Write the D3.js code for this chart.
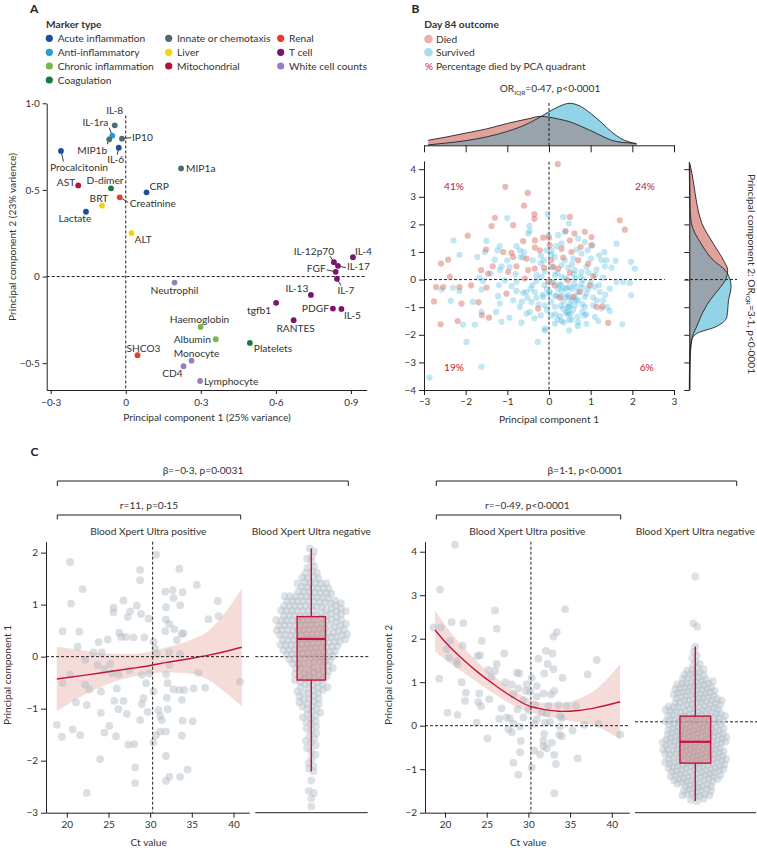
<!DOCTYPE html>
<html><head><meta charset="utf-8">
<script src="https://cdn.jsdelivr.net/npm/d3@7"></script>
<style>body{margin:0;background:#fff}svg{display:block}</style>
</head><body><svg id="c" width="757" height="848"></svg>
<script>
// ---------------- DATA ----------------
const markerTypes = ["Acute inflammation","Anti-inflammatory","Chronic inflammation","Coagulation","Innate or chemotaxis","Liver","Mitochondrial","Renal","T cell","White cell counts"];
// [name, PC1, PC2, type index]
const markers = [
 ["IL-8",-0.044,0.873,4],["IL-1ra",-0.054,0.813,1],["MIP1b",-0.066,0.792,4],["IP10",-0.015,0.796,4],
 ["IL-6",-0.028,0.744,0],["Procalcitonin",-0.259,0.725,0],["MIP1a",0.221,0.624,4],["AST",-0.19,0.526,6],
 ["D-dimer",-0.059,0.509,3],["CRP",0.083,0.486,0],["Creatinine",-0.024,0.457,7],["BRT",-0.095,0.409,5],
 ["Lactate",-0.159,0.374,0],["ALT",0.023,0.251,5],["IL-4",0.908,0.112,8],["IL-12p70",0.832,0.083,8],
 ["IL-17",0.848,0.062,8],["FGF",0.839,0.027,8],["IL-7",0.844,-0.013,8],["Neutrophil",0.195,-0.035,9],
 ["IL-13",0.74,-0.106,8],["tgfb1",0.601,-0.152,8],["PDGF",0.828,-0.185,8],["IL-5",0.862,-0.187,8],
 ["RANTES",0.671,-0.252,8],["Haemoglobin",0.299,-0.291,2],["Albumin",0.36,-0.362,2],["Platelets",0.496,-0.383,3],
 ["SHCO3",0.047,-0.454,7],["Monocyte",0.263,-0.486,9],["CD4",0.231,-0.518,9],["Lymphocyte",0.297,-0.603,9]
];
const aXTicks = [-0.3,0,0.3,0.6,0.9];
const aYTicks = [-0.5,0,0.5,1.0];

const outcomes = ["Died","Survived"];
const quadrantPct = [["41%",-1],["24%",1],["19%",-1],["6%",1]];
const diedPts = [[-1.05,3.36],[-0.51,3.14],[-0.6,2.68],[-0.35,2.37],[-0.35,2.2],[-1.3,2.24],[-1.38,1.94],[-0.86,1.97],[-1.95,1.59],[-0.62,1.39],[-0.34,1.42],[-0.14,1.52],[-2.42,0.72],[-2.59,0.58],[-1.51,1.09],[-1.1,1.0],[-0.9,0.97],[-0.86,0.82],[-0.54,0.76],[-0.34,1.16],[-0.22,1.06],[-1.63,0.34],[-1.35,0.48],[-1.46,0.22],[-0.98,0.28],[-0.78,0.48],[-0.5,0.34],[-0.34,0.4],[-0.12,0.43],[-2.38,0.1],[-0.58,0.04],[-2.71,-0.27],[-2.54,-0.27],[-2.15,-0.27],[-1.87,-0.21],[-1.5,-0.29],[-2.76,-0.79],[-2.1,-0.87],[-1.69,-0.82],[-1.02,-0.51],[-0.26,-1.05],[-1.61,-1.29],[-1.44,-1.38],[-2.19,-1.5],[-2.6,-1.62],[-0.02,-0.08],[0.21,4.18],[0.0,1.52],[0.5,2.27],[0.4,1.76],[0.61,1.67],[0.86,1.73],[1.02,1.54],[1.7,2.15],[1.82,1.81],[0.02,1.24],[0.3,1.12],[0.5,1.42],[0.54,1.0],[0.76,1.18],[1.02,1.24],[0.05,0.7],[0.34,0.8],[0.7,0.7],[0.94,0.58],[0.1,0.46],[0.22,0.4],[0.5,0.24],[1.06,0.12],[0.45,-0.03],[0.26,-0.65],[0.58,-0.63],[1.14,-0.99],[1.28,-0.97],[0.98,-0.21],[1.42,-1.57],[0.14,-0.21],[0.74,-0.45]];
const survivedPts = [[-1.0,2.23],[-0.47,1.95],[-0.46,1.76],[-0.5,1.67],[-0.03,2.37],[-2.29,1.42],[-2.15,0.9],[-1.5,1.4],[-1.18,1.21],[-1.72,0.82],[-1.54,1.0],[-1.3,0.72],[-1.24,1.06],[-0.78,1.21],[-0.68,0.82],[-1.0,0.7],[-1.14,0.48],[-1.4,0.22],[-1.18,0.34],[-0.7,1.06],[-0.62,0.8],[-0.39,0.7],[-0.19,0.86],[-0.12,0.7],[-1.67,0.07],[-1.58,-0.05],[-2.3,-0.3],[-2.58,-0.36],[-2.15,-0.41],[-1.62,-0.36],[-2.36,-0.77],[-1.83,-0.81],[-1.22,-0.6],[-1.18,-0.87],[-0.9,-0.24],[-0.78,-0.41],[-0.86,-0.75],[-0.62,-0.48],[-0.7,-0.99],[-0.52,-0.65],[-0.44,-0.33],[-0.34,-0.45],[-0.3,-0.65],[-0.42,-0.81],[-0.54,-1.23],[-0.46,-1.17],[-0.14,-0.63],[-0.1,-0.93],[-0.11,-0.2],[-0.18,0.1],[-1.62,-1.17],[-1.27,-1.17],[-0.95,-1.38],[-1.14,-1.53],[-0.66,-1.56],[-2.06,-1.63],[-1.78,-1.63],[-1.98,-2.26],[-0.27,-2.26],[-0.1,-1.84],[-1.62,-3.16],[-2.87,-3.55],[-0.02,1.6],[-0.06,1.06],[-0.3,0.16],[-0.78,-0.08],[-1.06,-0.03],[0.34,2.27],[0.48,2.03],[0.38,1.73],[0.22,1.61],[0.7,1.49],[0.86,1.37],[1.04,1.24],[1.62,1.3],[1.33,1.0],[1.38,0.7],[1.6,0.68],[1.97,0.64],[2.06,0.4],[0.06,1.04],[0.18,1.21],[0.66,1.09],[0.78,0.94],[0.93,1.06],[1.2,0.88],[0.14,0.82],[0.38,0.7],[0.58,0.76],[1.01,0.76],[1.26,0.7],[1.5,0.43],[0.08,0.46],[0.3,0.52],[0.46,0.43],[0.62,0.34],[0.78,0.28],[0.9,0.46],[1.14,0.36],[1.34,0.48],[1.1,0.16],[1.3,0.07],[1.62,-0.09],[1.78,-0.09],[1.94,-0.12],[1.97,-0.57],[0.14,0.16],[0.3,0.1],[0.62,0.04],[0.82,0.0],[0.06,-0.09],[0.29,-0.17],[0.38,-0.33],[0.5,-0.27],[0.66,-0.27],[0.78,-0.15],[0.94,-0.33],[1.1,-0.27],[1.22,-0.45],[1.46,-0.33],[0.02,-0.45],[0.18,-0.57],[0.42,-0.63],[0.7,-0.75],[0.86,-0.63],[1.06,-0.65],[1.3,-0.75],[1.46,-1.14],[0.14,-0.99],[0.34,-1.05],[0.48,-0.99],[0.62,-0.93],[0.86,-0.99],[1.06,-0.93],[1.26,-1.05],[0.06,-1.3],[0.26,-1.33],[0.46,-1.26],[0.69,-1.35],[0.9,-1.26],[1.1,-1.35],[0.14,-1.6],[0.3,-1.5],[0.48,-1.47],[0.69,-1.68],[0.9,-1.6],[1.18,-1.5],[1.76,-1.62],[-0.1,-1.78],[0.48,-1.84],[0.45,-1.17],[0.55,-0.75],[0.8,-1.17],[0.22,-0.33],
 [0.3,-0.4],[0.45,-0.55],[0.55,-0.35],[0.62,-0.6],[0.7,-0.45],[0.35,-0.8],[0.5,-0.9],[0.58,-1.1],[0.4,-1.2],[0.25,-0.2],[0.15,-0.6],[0.05,-0.8],[-0.05,-0.35],[-0.15,-0.55],[-0.25,-0.9],[-0.4,-0.2],[-0.55,-0.45],[-0.2,-1.3],[0.8,-0.9],[0.9,-0.5],[1.0,-0.1],[0.75,0.1],[0.6,0.2],[0.4,0.05],[0.2,0.25],[0.1,-0.1],[-0.1,0.3],[-0.3,-0.05],[0.85,-1.3],[0.55,-1.45],[0.35,-1.55],[0.15,-1.25],[1.15,-0.75],[1.2,-0.2],[0.65,-0.75],[0.48,-0.65],[0.52,-1.25],[0.42,-0.3],[0.28,-0.95],[-0.05,-1.1],[-0.35,-1.4],[-0.65,-0.8],[-0.8,0.2],[-0.95,0.45],[-1.2,-0.2],[-0.6,1.0],[-0.2,0.6],[0.05,0.9],[0.3,1.3],[0.55,0.55],[0.95,0.25],[1.35,-0.55],[1.4,-1.0],[0.7,-1.55],[0.45,-1.0],[0.6,-0.15],[0.3,-0.6],[0.8,-0.3],[0.2,-1.45],[0.0,-0.5]];
const bTicks = [-3,-2,-1,0,1,2,3];
const bYTicks = [-4,-3,-2,-1,0,1,2,3,4];
// marginal densities (relative)
const topDensX = [-2.9,-2.5,-2,-1.5,-1,-0.5,-0.2,0,0.25,0.5,0.75,1,1.25,1.5,1.75,2,2.1];
const topDied  = [0.12,0.19,0.29,0.39,0.52,0.63,0.69,0.67,0.62,0.56,0.46,0.35,0.23,0.12,0.07,0.05,0.03];
const topSurv  = [0.01,0.05,0.11,0.2,0.33,0.52,0.68,0.8,0.93,1.0,0.93,0.76,0.55,0.32,0.15,0.06,0.04];
const rightDensY = [4.25,4.08,3.11,2.5,2.03,1.3,0.7,0.34,-0.03,-0.25,-0.75,-1.35,-1.72,-1.95,-2.2,-2.9,-4];
const rightDied  = [0.0,0.03,0.14,0.21,0.3,0.57,0.81,0.91,0.85,0.75,0.49,0.27,0.17,0.1,0.06,0.02,0.01];
const rightSurv  = [0.0,0.0,0.01,0.02,0.05,0.28,0.57,0.85,0.97,0.99,0.93,0.89,0.61,0.18,0.05,0.01,0.0];

// Panel C
const ctTicks = [20,25,30,35,40];
const ctCutoff = 30.3;
// [Ct, PC1] Blood Xpert Ultra positive
const posPC1 = [[20.4,1.82],[30.7,1.96],[28.8,1.67],[28.8,1.47],[33.5,1.69],[21.9,1.3],[35.6,1.38],[20.5,1.02],[31.8,1.25],[32.7,1.28],[33.9,1.24],[32.8,1.13],[38.1,1.07],[26.8,1.08],[25.6,0.94],[25.6,0.85],[28.4,0.98],[27.6,0.87],[28.9,0.82],[27.3,0.76],[29.8,0.73],[31.9,0.95],[33.6,0.99],[38.2,0.78],[37.0,0.72],[31.9,0.71],[32.3,0.63],[19.5,0.49],[21.5,0.48],[26.3,0.46],[31.8,0.49],[32.9,0.53],[34.0,0.45],[26.5,0.38],[27.1,0.38],[28.0,0.37],[29.3,0.37],[30.4,0.29],[33.2,0.32],[33.8,0.44],[21.3,0.19],[23.8,0.28],[24.9,0.33],[23.2,0.08],[24.2,0.08],[30.6,0.16],[30.8,0.05],[32.3,0.08],[33.6,0.05],[22.2,-0.06],[25.2,-0.14],[23.7,-0.16],[20.4,-0.34],[24.5,-0.24],[25.4,-0.32],[26.2,-0.34],[27.5,-0.26],[29.0,-0.35],[29.9,-0.32],[31.9,-0.34],[32.3,-0.16],[35.8,-0.31],[19.5,-0.51],[22.2,-0.54],[22.7,-0.63],[24.1,-0.67],[26.0,-0.61],[29.5,-0.51],[30.4,-0.67],[32.1,-0.51],[32.8,-0.63],[33.5,-0.64],[34.1,-0.64],[35.2,-0.61],[36.6,-0.6],[40.8,-0.48],[32.0,-0.79],[33.8,-0.83],[25.7,-0.85],[29.2,-0.8],[21.1,-0.88],[22.4,-0.93],[26.8,-0.85],[29.0,-0.91],[26.2,-1.01],[29.7,-1.06],[31.0,-1.03],[32.1,-1.01],[24.1,-1.08],[27.2,-1.1],[31.2,-1.14],[31.4,-1.22],[28.8,-1.22],[33.9,-1.23],[35.1,-1.24],[18.8,-1.31],[20.7,-1.4],[19.4,-1.54],[21.6,-1.51],[24.5,-1.46],[25.1,-1.33],[25.9,-1.53],[31.2,-1.44],[31.9,-1.44],[30.7,-1.51],[33.8,-1.52],[27.4,-1.69],[28.1,-1.68],[30.4,-1.65],[31.9,-1.91],[24.0,-1.97],[28.2,-2.13],[34.5,-2.17],[32.3,-2.31],[33.6,-2.31],[31.9,-2.39],[28.2,-2.43],[22.4,-2.62]];
// PC1 values, Blood Xpert Ultra negative
const negPC1 = [2.08,2.02,1.93,1.88,1.82,1.74,1.69,1.64,1.61,1.58,1.55,1.52,1.49,1.47,1.44,1.42,1.41,1.39,1.37,1.36,1.34,1.33,1.31,1.29,1.28,1.26,1.25,1.23,1.22,1.21,1.2,1.19,1.18,1.17,1.16,1.15,1.14,1.13,1.12,1.11,1.1,1.09,1.08,1.07,1.06,1.05,1.04,1.03,1.02,1.01,1.0,0.99,0.98,0.98,0.97,0.96,0.95,0.95,0.94,0.93,0.92,0.91,0.9,0.9,0.89,0.88,0.87,0.86,0.86,0.85,0.84,0.83,0.83,0.82,0.81,0.8,0.8,0.79,0.79,0.78,0.77,0.77,0.76,0.75,0.75,0.74,0.73,0.73,0.72,0.71,0.71,0.7,0.69,0.69,0.68,0.67,0.67,0.66,0.65,0.65,0.64,0.63,0.63,0.62,0.61,0.61,0.6,0.59,0.59,0.58,0.57,0.57,0.56,0.55,0.55,0.54,0.53,0.53,0.52,0.51,0.51,0.5,0.5,0.49,0.48,0.48,0.47,0.46,0.46,0.45,0.44,0.44,0.43,0.42,0.42,0.41,0.41,0.4,0.39,0.38,0.38,0.37,0.36,0.36,0.35,0.34,0.34,0.33,0.32,0.32,0.31,0.3,0.3,0.29,0.28,0.28,0.27,0.26,0.26,0.25,0.24,0.24,0.23,0.22,0.21,0.2,0.19,0.18,0.17,0.16,0.15,0.14,0.13,0.12,0.11,0.1,0.09,0.08,0.07,0.06,0.05,0.04,0.03,0.02,0.01,0.0,0.0,0.01,-0.01,-0.02,-0.04,-0.05,-0.07,-0.08,-0.1,-0.11,-0.12,-0.14,-0.15,-0.16,-0.18,-0.19,-0.2,-0.21,-0.23,-0.24,-0.26,-0.27,-0.29,-0.3,-0.31,-0.33,-0.34,-0.36,-0.37,-0.38,-0.4,-0.41,-0.43,-0.45,-0.46,-0.48,-0.5,-0.51,-0.53,-0.55,-0.56,-0.58,-0.6,-0.61,-0.63,-0.65,-0.66,-0.68,-0.7,-0.72,-0.74,-0.76,-0.78,-0.8,-0.82,-0.85,-0.87,-0.9,-0.92,-0.95,-0.97,-0.99,-1.02,-1.05,-1.08,-1.1,-1.13,-1.16,-1.19,-1.22,-1.26,-1.3,-1.34,-1.38,-1.42,-1.47,-1.52,-1.57,-1.62,-1.65,-1.7,-1.76,-1.82,-1.88,-1.96,-2.05,-2.1,-2.15,-2.2,-2.38,-2.58,-2.62,-2.72,-2.88];
const negPC1Box = {q1:-0.45, median:0.34, q3:0.77, lo:-2.21, hi:2.08};
const fitCt1 = [18.8,22,25,28,30,32,35,37,39,41];
const fit1   = [-0.43,-0.36,-0.29,-0.22,-0.17,-0.11,-0.03,0.03,0.1,0.18];
const fit1Hi = [0.19,0.12,0.06,0.05,0.1,0.18,0.33,0.5,0.85,1.31];
const fit1Lo = [-1.05,-0.74,-0.52,-0.38,-0.33,-0.3,-0.33,-0.45,-0.68,-0.96];
const c1YTicks = [-3,-2,-1,0,1,2];

// [Ct, PC2] Blood Xpert Ultra positive
const posPC2 = [[21.2,4.16],[19.4,3.13],[26.0,2.65],[34.4,2.68],[20.8,2.38],[22.2,2.36],[18.6,2.26],[19.5,2.26],[26.2,2.23],[33.4,2.15],[33.0,2.05],[20.6,1.95],[22.1,1.84],[24.4,1.95],[20.2,1.76],[32.1,1.72],[32.9,1.66],[27.1,1.66],[20.5,1.57],[23.9,1.6],[24.2,1.62],[31.2,1.54],[38.2,1.51],[21.4,1.49],[21.5,1.41],[26.2,1.42],[32.3,1.42],[25.2,1.28],[26.0,1.26],[28.9,1.2],[28.6,1.22],[31.9,1.2],[33.0,1.3],[37.1,1.18],[25.6,1.13],[19.3,1.08],[22.0,1.0],[27.2,1.0],[28.0,0.95],[29.8,0.95],[30.4,1.1],[34.1,1.1],[28.8,0.86],[29.7,0.8],[31.0,0.91],[33.1,0.8],[22.5,0.76],[24.1,0.74],[28.2,0.72],[31.8,0.74],[32.7,0.72],[22.4,0.57],[24.0,0.54],[25.3,0.61],[29.4,0.59],[31.0,0.67],[24.3,0.45],[26.8,0.4],[28.7,0.38],[30.0,0.36],[32.4,0.46],[33.6,0.48],[34.6,0.46],[35.7,0.46],[20.3,0.3],[21.5,0.25],[26.5,0.16],[27.4,0.19],[29.4,0.19],[31.0,0.15],[32.2,0.28],[33.8,0.22],[34.0,0.17],[23.8,0.07],[28.2,0.05],[30.7,0.05],[32.0,0.07],[32.6,0.09],[36.7,0.02],[38.4,0.05],[27.6,-0.08],[29.0,-0.02],[33.8,-0.02],[35.3,-0.11],[28.0,-0.15],[41.0,-0.2],[31.9,-0.19],[33.7,-0.21],[34.0,-0.24],[25.1,-0.29],[29.1,-0.35],[31.8,-0.35],[32.8,-0.39],[31.8,-0.47],[30.7,-0.57],[32.2,-0.52],[31.4,-0.66],[33.1,-0.67],[29.0,-0.61],[35.9,-0.75],[28.2,-0.85],[33.3,-0.88],[30.4,-0.96],[28.8,-1.13],[33.1,-1.55],[31.6,0.3],[27.8,0.17],[30.2,0.78],[30.8,0.48]];
const negPC2 = [1.82,1.7,1.62,1.55,1.48,1.42,1.38,1.33,1.29,1.25,1.22,1.21,1.19,1.17,1.15,1.13,1.11,1.09,1.07,1.05,1.03,1.01,0.99,0.98,0.97,0.96,0.95,0.94,0.93,0.92,0.91,0.9,0.89,0.88,0.86,0.85,0.83,0.81,0.8,0.79,0.78,0.77,0.76,0.75,0.74,0.73,0.72,0.71,0.7,0.69,0.68,0.67,0.66,0.65,0.64,0.63,0.62,0.61,0.6,0.59,0.58,0.57,0.56,0.55,0.54,0.53,0.52,0.51,0.5,0.49,0.48,0.47,0.46,0.45,0.44,0.43,0.42,0.42,0.41,0.4,0.39,0.38,0.38,0.37,0.36,0.35,0.34,0.33,0.33,0.32,0.31,0.3,0.29,0.28,0.28,0.27,0.26,0.25,0.24,0.23,0.22,0.22,0.21,0.2,0.19,0.18,0.18,0.17,0.16,0.15,0.14,0.14,0.13,0.12,0.11,0.1,0.1,0.09,0.08,0.07,0.06,0.06,0.05,0.04,0.03,0.02,0.02,0.01,0.0,0.0,-0.01,-0.02,-0.02,-0.03,-0.04,-0.05,-0.06,-0.06,-0.07,-0.08,-0.09,-0.1,-0.1,-0.11,-0.12,-0.13,-0.14,-0.14,-0.15,-0.16,-0.17,-0.18,-0.18,-0.19,-0.2,-0.2,-0.2,-0.21,-0.22,-0.22,-0.23,-0.24,-0.25,-0.26,-0.26,-0.27,-0.28,-0.29,-0.3,-0.3,-0.31,-0.32,-0.33,-0.34,-0.34,-0.35,-0.36,-0.37,-0.37,-0.38,-0.38,-0.39,-0.39,-0.4,-0.4,-0.41,-0.42,-0.42,-0.43,-0.44,-0.45,-0.46,-0.46,-0.47,-0.48,-0.49,-0.5,-0.5,-0.51,-0.52,-0.53,-0.54,-0.54,-0.55,-0.56,-0.57,-0.57,-0.58,-0.58,-0.59,-0.59,-0.6,-0.6,-0.61,-0.62,-0.62,-0.63,-0.64,-0.65,-0.66,-0.66,-0.67,-0.68,-0.69,-0.7,-0.7,-0.71,-0.72,-0.73,-0.74,-0.74,-0.75,-0.76,-0.77,-0.77,-0.78,-0.78,-0.79,-0.79,-0.8,-0.8,-0.81,-0.82,-0.82,-0.83,-0.84,-0.85,-0.86,-0.86,-0.87,-0.88,-0.89,-0.9,-0.9,-0.91,-0.92,-0.93,-0.94,-0.94,-0.95,-0.96,-0.97,-0.98,-0.99,-1.0,-1.0,-1.0,-1.01,-1.02,-1.03,-1.04,-1.05,-1.06,-1.07,-1.08,-1.09,-1.1,-1.11,-1.12,-1.13,-1.14,-1.15,-1.16,-1.17,-1.18,-1.19,-1.2,-1.2,-1.2,-1.22,-1.23,-1.25,-1.26,-1.28,-1.29,-1.31,-1.32,-1.34,-1.35,-1.37,-1.38,-1.39,-1.4,-1.4,-1.4,-1.42,-1.44,-1.46,-1.48,-1.5,-1.51,-1.53,-1.55,-1.57,-1.58,-1.59,-1.6,-1.62,-1.66,-1.7,-1.73,2.28,2.35,3.43];
const negPC2Box = {q1:-0.86, median:-0.37, q3:0.22, lo:-1.73, hi:1.82};
const negPC2Ref = 0.09;
const fitCt2 = [18.8,20,22,24,26,28,30,32,34,36,38,41];
const fit2   = [2.2,1.93,1.55,1.22,0.93,0.67,0.46,0.37,0.33,0.35,0.41,0.55];
const fit2Hi = [2.65,2.32,1.85,1.45,1.12,0.85,0.62,0.52,0.52,0.62,0.82,1.42];
const fit2Lo = [1.72,1.52,1.25,0.98,0.72,0.49,0.32,0.22,0.15,0.08,0.0,-0.32];
const c2YTicks = [-2,-1,0,1,2,3,4];

// ---------------- STYLE ----------------
const FONT = "Lato, 'Open Sans', sans-serif";
const INK = "#231f20", TXT = "#333";
const typeColors = ["#1b4f9c","#1fa2cf","#7ab648","#167a43","#4e6b73","#f5d30f","#b4123b","#e93a2d","#7b1470","#9a7cc1"];
const CRIMSON = "#c3143e";

const svg = d3.select("#c").attr("font-family", FONT);
svg.append("rect").attr("width",757).attr("height",848).attr("fill","#fff");

function text(x,y,s,o={}){
  return svg.append("text").attr("x",x).attr("y",y).text(s)
   .attr("font-size",o.size||10).attr("fill",o.fill||TXT)
   .attr("text-anchor",o.anchor||"start").attr("font-weight",o.weight||"normal");
}
function line(x1,y1,x2,y2,o={}){
  return svg.append("line").attr("x1",x1).attr("y1",y1).attr("x2",x2).attr("y2",y2)
   .attr("stroke",o.stroke||INK).attr("stroke-width",o.w||1).attr("stroke-dasharray",o.dash||null);
}
function styleAxis(g){
  g.selectAll("path,line").attr("stroke",INK).attr("stroke-width",1);
  g.selectAll("text").attr("fill",TXT).attr("font-size",10).attr("font-family",FONT);
}
const decFmt = v => v===0 ? "0" : d3.format(".1f")(v).replace(".","·");
const intFmt = d3.format("d");

// ================= PANEL A =================
text(30,13,"A",{size:12,weight:"bold",fill:"#222"});
text(46,28,"Marker type",{size:10.2,weight:"bold",fill:"#333"});
const legCols = [49.3,168.7,280.7], legRows=[38.3,52.3,66,80];
const legLayout = [[0,0],[0,1],[0,2],[0,3],[1,0],[1,1],[1,2],[2,0],[2,1],[2,2]];
markerTypes.forEach((t,i)=>{
  const [c,r] = legLayout[i];
  svg.append("circle").attr("cx",legCols[c]).attr("cy",legRows[r]).attr("r",3.6).attr("fill",typeColors[i]);
  text(legCols[c]+8.4,legRows[r]+3.6,t,{size:10.2});
});

const xA = d3.scaleLinear([-0.316,0.963],[46.7,366.7]);
const yA = d3.scaleLinear([-0.655,1.0],[390,103.3]);
line(xA(0),yA(0.93),xA(0),390,{dash:"3,2"});
line(46.7,yA(0),366.7,yA(0),{dash:"3,2"});
svg.append("g").attr("transform","translate(0,390)")
  .call(d3.axisBottom(xA).tickValues(aXTicks).tickFormat(decFmt).tickSize(4).tickSizeOuter(0).tickPadding(5)).call(styleAxis);
svg.append("g").attr("transform","translate(46.7,0)")
  .call(d3.axisLeft(yA).tickValues(aYTicks).tickFormat(decFmt).tickSize(4).tickSizeOuter(0).tickPadding(3)).call(styleAxis);
text(207,421,"Principal component 1 (25% variance)",{anchor:"middle",size:10.2});
text(0,0,"Principal component 2 (23% varience)",{anchor:"middle",size:10.2})
  .attr("transform","translate(16,237) rotate(-90)");

// label layout: dx, dy (label centre), anchor, optional leader end offset
const labelLayout = {
 "IL-8":[0,-15,"middle"],"IL-1ra":[-4,-13,"end",[-3,-8]],"MIP1b":[-2,11,"end",[-2,5]],"IP10":[10,-1,"start",[9,-1]],
 "IL-6":[-3,12,"middle",[-1.5,7]],"Procalcitonin":[18,16,"middle",[2.5,10.5]],"MIP1a":[5,0,"start"],"AST":[-3,-3,"end"],
 "D-dimer":[-6,-8,"middle"],"CRP":[3,-6,"start"],"Creatinine":[10,6,"start",[8.5,5]],"BRT":[-3,-7,"middle"],
 "Lactate":[-11,7,"middle"],"ALT":[3,6,"start"],"IL-4":[2,-6,"start"],"IL-12p70":[-20,-11,"middle",[-4,-6]],
 "IL-17":[9,1,"start",[8,2]],"FGF":[-10,-3,"end",[-9,-2]],"IL-7":[9,12,"middle",[4,6.7]],"Neutrophil":[0,8,"middle"],
 "IL-13":[-14,-6,"middle"],"tgfb1":[-17,8,"middle"],"PDGF":[-4,0,"end"],"IL-5":[11,7,"middle"],
 "RANTES":[2,8,"middle"],"Haemoglobin":[-1,-8,"middle"],"Albumin":[-5,0,"end"],"Platelets":[4,6,"start"],
 "SHCO3":[6,-7,"middle"],"Monocyte":[5,-7,"middle"],"CD4":[-11,7,"middle"],"Lymphocyte":[4,0,"start"]
};
const gA = svg.append("g");
markers.forEach(m=>{
  const px = xA(m[1]), py = yA(m[2]);
  const L = labelLayout[m[0]];
  if (L[3]) {
    const a = Math.atan2(L[3][1],L[3][0]);
    gA.append("line").attr("x1",px+Math.cos(a)*2).attr("y1",py+Math.sin(a)*2)
      .attr("x2",px+L[3][0]).attr("y2",py+L[3][1]).attr("stroke","#222").attr("stroke-width",0.9);
  }
});
markers.forEach(m=>{
  const px = xA(m[1]), py = yA(m[2]);
  gA.append("circle").attr("cx",px).attr("cy",py).attr("r",2.9).attr("fill",typeColors[m[3]]);
  const L = labelLayout[m[0]];
  gA.append("text").attr("x",px+L[0]).attr("y",py+L[1]).attr("dy","0.35em").text(m[0])
    .attr("text-anchor",L[2]).attr("font-size",10.2).attr("fill",TXT);
});

// ================= PANEL B =================
text(411.5,13,"B",{size:12,weight:"bold",fill:"#222"});
text(424.3,28,"Day 84 outcome",{size:10.2,weight:"bold"});
const legB = [["Died","#eab1aa",39],["Survived","#a6dcee",52.3]];
legB.forEach(d=>{
  svg.append("circle").attr("cx",428.5).attr("cy",d[2]).attr("r",4.3).attr("fill",d[1]);
  text(436,d[2]+3.6,d[0],{size:10.2});
});
text(425,69.6,"%",{size:10,fill:CRIMSON});
text(436,69.6,"Percentage died by PCA quadrant",{size:10.2});

const xB = d3.scaleLinear([-3,3],[424,674]);
const yB = d3.scaleLinear([-4,4.3],[390,160.9]);
// top density
const baseTop = 145.3;
const hTop = d3.scaleLinear([0,1],[baseTop,103.3]);
const tDied = topDensX.map((x,i)=>[x,topDied[i]]), tSurv = topDensX.map((x,i)=>[x,topSurv[i]]);
const areaT = d3.area().x(d=>xB(d[0])).y0(baseTop).y1(d=>hTop(d[1])).curve(d3.curveMonotoneX);
const lineT = d3.line().x(d=>xB(d[0])).y(d=>hTop(d[1])).curve(d3.curveMonotoneX);
const defs = svg.append("defs");
defs.append("clipPath").attr("id","clipTop").append("path").attr("d",areaT(tDied));
svg.append("path").attr("d",areaT(tDied)).attr("fill","#e2a29c");
svg.append("path").attr("d",areaT(tSurv)).attr("fill","#93d3e7");
svg.append("path").attr("d",areaT(tSurv)).attr("fill","#98a3ab").attr("clip-path","url(#clipTop)");
svg.append("path").attr("d",lineT(tDied)).attr("fill","none").attr("stroke","#222").attr("stroke-width",0.9);
svg.append("path").attr("d",lineT(tSurv)).attr("fill","none").attr("stroke","#222").attr("stroke-width",0.9);
line(xB(0),103,xB(0),baseTop,{dash:"3,2"});
svg.append("g").attr("transform",`translate(0,${baseTop})`)
  .call(d3.axisBottom(xB).tickValues(bTicks).tickFormat("").tickSize(7).tickSizeOuter(0)).call(styleAxis);
const tq = text(550,92,"OR",{anchor:"middle",size:10.2});
tq.append("tspan").attr("font-size",6.5).attr("dy",2.5).text("IQR");
tq.append("tspan").attr("dy",-2.5).text("=0·47, p<0·0001");

// right density
const baseR = 689.3;
const wR = d3.scaleLinear([0,1],[baseR,731.5]);
const rDied = rightDensY.map((y,i)=>[y,rightDied[i]]), rSurv = rightDensY.map((y,i)=>[y,rightSurv[i]]);
const areaR = d3.area().y(d=>yB(d[0])).x0(baseR).x1(d=>wR(d[1])).curve(d3.curveMonotoneY);
const lineR = d3.line().y(d=>yB(d[0])).x(d=>wR(d[1])).curve(d3.curveMonotoneY);
defs.append("clipPath").attr("id","clipR").append("path").attr("d",areaR(rDied));
svg.append("path").attr("d",areaR(rDied)).attr("fill","#e2a29c");
svg.append("path").attr("d",areaR(rSurv)).attr("fill","#93d3e7");
svg.append("path").attr("d",areaR(rSurv)).attr("fill","#98a3ab").attr("clip-path","url(#clipR)");
svg.append("path").attr("d",lineR(rDied)).attr("fill","none").attr("stroke","#222").attr("stroke-width",0.9);
svg.append("path").attr("d",lineR(rSurv)).attr("fill","none").attr("stroke","#222").attr("stroke-width",0.9);
line(685,yB(0),737,yB(0),{dash:"3,2"});
const yBr = d3.scaleLinear([-4,4.2],[390,yB(4.2)]);
svg.append("g").attr("transform",`translate(${baseR},0)`)
  .call(d3.axisLeft(yBr).tickValues(bYTicks).tickFormat("").tickSize(5).tickSizeOuter(0)).call(styleAxis);
const rl = text(0,0,"Principal component 2: OR",{anchor:"middle",size:10.2}).attr("transform","translate(748,274) rotate(90)");
rl.append("tspan").attr("font-size",6.5).attr("dy",2.5).text("IQR");
rl.append("tspan").attr("dy",-2.5).text("=3·1, p<0·0001");

// main scatter
line(xB(0),yB(4.27),xB(0),390,{dash:"3,2"});
line(424,yB(0),xB(2.78),yB(0),{dash:"3,2"});
const gB = svg.append("g");
gB.selectAll(".s").data(survivedPts).join("circle").attr("cx",d=>xB(d[0])).attr("cy",d=>yB(d[1]))
  .attr("r",3.1).attr("fill","#3db3dc").attr("fill-opacity",0.32);
gB.selectAll(".d").data(diedPts).join("circle").attr("cx",d=>xB(d[0])).attr("cy",d=>yB(d[1]))
  .attr("r",3.1).attr("fill","#d9766a").attr("fill-opacity",0.5);
svg.append("g").attr("transform","translate(0,390)")
  .call(d3.axisBottom(xB).tickValues(bTicks).tickFormat(intFmt).tickSize(5).tickSizeOuter(0).tickPadding(3)).call(styleAxis);
svg.append("g").attr("transform","translate(424,0)")
  .call(d3.axisLeft(yB).tickValues(bYTicks).tickFormat(intFmt).tickSize(5).tickSizeOuter(0).tickPadding(3)).call(styleAxis);
text(549,423,"Principal component 1",{anchor:"middle",size:10.2});
const pctPos = [[454,186],[645,186],[454,367.3],[646.7,367.3]];
quadrantPct.forEach((q,i)=>{
  text(pctPos[i][0],pctPos[i][1],q[0],{anchor:"middle",size:10.2,fill:CRIMSON}).attr("dy","0.35em");
});

// ================= PANEL C =================
text(30.5,456,"C",{size:12,weight:"bold",fill:"#222"});

function swarm(values, yScale, cx, rc){
  const nodes = values.map((v,i)=>({v, x: cx + (((i*37)%11)-5)*0.6, y: yScale(v)}));
  const sim = d3.forceSimulation(nodes)
    .force("x", d3.forceX(cx).strength(0.06))
    .force("y", d3.forceY(d=>yScale(d.v)).strength(0.9))
    .force("c", d3.forceCollide(rc).iterations(3)).stop();
  for (let i=0;i<320;i++) sim.tick();
  return nodes;
}
function bracket(x1,x2,y,h){
  svg.append("path").attr("d",`M${x1},${y+h}V${y}H${x2}V${y+h}`).attr("fill","none").attr("stroke",INK).attr("stroke-width",1);
}
function panelC(cfg){
  const x = d3.scaleLinear(cfg.ctDomain, cfg.xRange);
  const y = d3.scaleLinear(cfg.yDomain, [812.7, 541.7]);
  text(cfg.betaX,473.5,cfg.beta,{anchor:"middle",size:10.2});
  bracket(cfg.xRange[0]+11.3, cfg.bracketEnd, 481, 5);
  text(cfg.rX,508.5,cfg.r,{anchor:"middle",size:10.2});
  bracket(cfg.xRange[0]+11.3, cfg.xRange[1]-8.6, 515, 4.5);
  text(cfg.posX,534.5,"Blood Xpert Ultra positive",{anchor:"middle",size:10.2});
  text(cfg.boxX,534.5,"Blood Xpert Ultra negative",{anchor:"middle",size:10.2});
  const fitData = cfg.fitCt.map((c,i)=>({c, f:cfg.fit[i], lo:cfg.lo[i], hi:cfg.hi[i]}));
  svg.append("path").attr("d", d3.area().x(d=>x(d.c)).y0(d=>y(d.lo)).y1(d=>y(d.hi)).curve(d3.curveMonotoneX)(fitData))
    .attr("fill","#efc4bf").attr("fill-opacity",0.6);
  svg.append("g").selectAll("circle").data(cfg.pos).join("circle")
    .attr("cx",d=>x(d[0])).attr("cy",d=>y(d[1])).attr("r",3.9).attr("fill","#aeb8c2").attr("fill-opacity",0.45);
  svg.append("path").attr("d", d3.line().x(d=>x(d.c)).y(d=>y(d.f)).curve(d3.curveMonotoneX)(fitData))
    .attr("fill","none").attr("stroke",CRIMSON).attr("stroke-width",1.4);
  line(x(ctCutoff),541.7,x(ctCutoff),812.7,{dash:"3,2"});
  line(cfg.xRange[0],y(0),cfg.xRange[1],y(0),{dash:"3,2"});
  line(cfg.negAxis[0],y(cfg.negRef),cfg.negAxis[1]+2,y(cfg.negRef),{dash:"3,2"});
  svg.append("g").attr("transform","translate(0,812.7)")
    .call(d3.axisBottom(x).tickValues(ctTicks).tickFormat(intFmt).tickSize(5).tickSizeOuter(0).tickPadding(3)).call(styleAxis);
  svg.append("g").attr("transform",`translate(${cfg.xRange[0]},0)`)
    .call(d3.axisLeft(y).tickValues(cfg.yTicks).tickFormat(intFmt).tickSize(5).tickSizeOuter(0).tickPadding(3)).call(styleAxis);
  line(cfg.negAxis[0],812.7,cfg.negAxis[1],812.7);
  text((cfg.xRange[0]+cfg.xRange[1])/2+1,846,"Ct value",{anchor:"middle",size:10.2});
  text(0,0,cfg.yLabel,{anchor:"middle",size:10.2}).attr("transform",`translate(${cfg.yLabelX},675) rotate(-90)`);
  const nodes = swarm(cfg.neg, y, cfg.boxX, cfg.collide);
  svg.append("g").selectAll("circle").data(nodes).join("circle")
    .attr("cx",d=>d.x).attr("cy",d=>d.y).attr("r",3.9).attr("fill","#b4bec8").attr("fill-opacity",0.45);
  const b = cfg.box, bw = cfg.boxW;
  line(cfg.boxX,y(b.hi),cfg.boxX,y(b.q3),{stroke:CRIMSON,w:1.4});
  line(cfg.boxX,y(b.q1),cfg.boxX,y(b.lo),{stroke:CRIMSON,w:1.4});
  svg.append("rect").attr("x",cfg.boxX-bw/2).attr("y",y(b.q3)).attr("width",bw).attr("height",y(b.q1)-y(b.q3))
    .attr("fill","#c9625e").attr("fill-opacity",0.35).attr("stroke",CRIMSON).attr("stroke-width",1.4);
  line(cfg.boxX-bw/2,y(b.median),cfg.boxX+bw/2,y(b.median),{stroke:CRIMSON,w:2.2});
}

panelC({ctDomain:[17.5,41.9], xRange:[46,249.3], yDomain:[-3,2.21], yTicks:c1YTicks,
  pos:posPC1, neg:negPC1, box:negPC1Box, negRef:0, fitCt:fitCt1, fit:fit1, lo:fit1Lo, hi:fit1Hi,
  beta:"β=−0·3, p=0·0031", betaX:203, bracketEnd:348.3, r:"r=11, p=0·15", rX:149, posX:148.3,
  boxX:311.3, boxW:28.4, negAxis:[255.3,367.7], yLabel:"Principal component 1", yLabelX:11, collide:2.7});
panelC({ctDomain:[17.6,42.1], xRange:[425,629.3], yDomain:[-2,4.23], yTicks:c2YTicks,
  pos:posPC2, neg:negPC2, box:negPC2Box, negRef:negPC2Ref, fitCt:fitCt2, fit:fit2, lo:fit2Lo, hi:fit2Hi,
  beta:"β=1·1, p<0·0001", betaX:585, bracketEnd:736.7, r:"r=−0·49, p<0·0001", rX:527.3, posX:527.3,
  boxX:695.3, boxW:30.7, negAxis:[635,756], yLabel:"Principal component 2", yLabelX:392, collide:2.4});
</script></body></html>
